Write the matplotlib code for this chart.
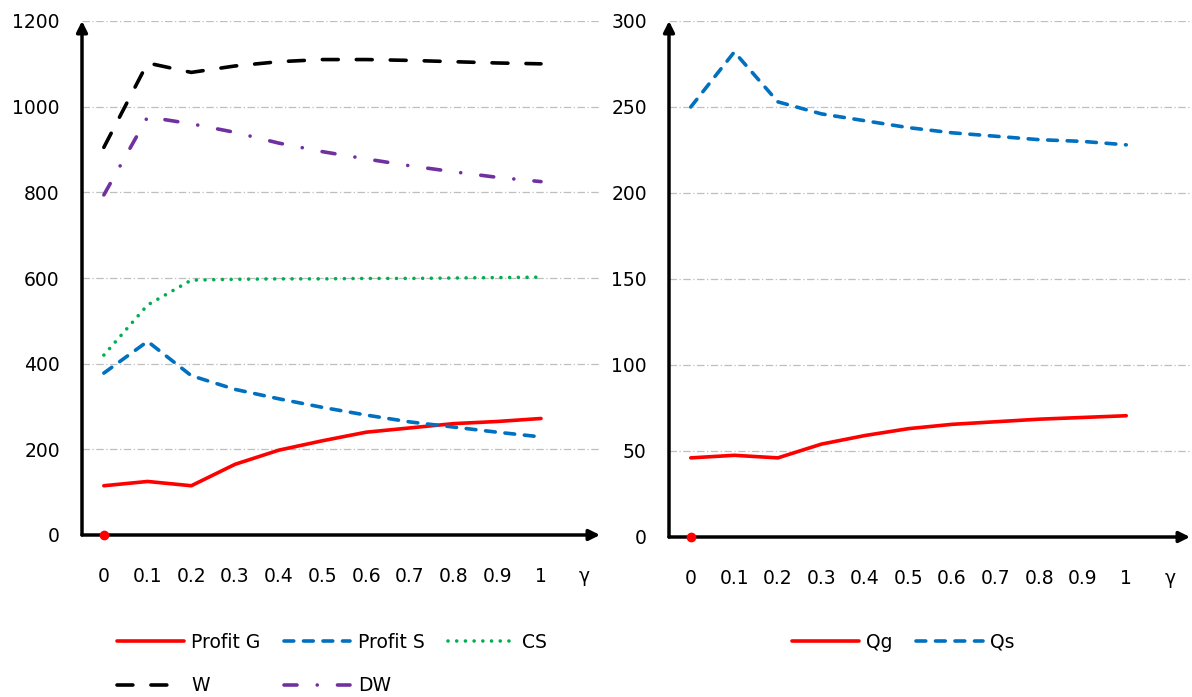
import matplotlib.pyplot as plt
import numpy as np

plt.rcParams['font.family'] = ['DejaVu Sans']

gamma = [0, 0.1, 0.2, 0.3, 0.4, 0.5, 0.6, 0.7, 0.8, 0.9, 1]
xtick_labels = ["0", "0.1", "0.2", "0.3", "0.4", "0.5", "0.6", "0.7", "0.8", "0.9", "1", "γ"]

# left panel
profit_g = [115, 125, 115, 165, 198, 220, 240, 250, 260, 265, 272]
profit_s = [378, 452, 372, 340, 318, 298, 280, 264, 252, 240, 229]
cs = [420, 537, 595, 597, 598, 598, 599, 599, 600, 601, 602]
w = [905, 1102, 1080, 1095, 1105, 1110, 1110, 1108, 1105, 1102, 1100]
dw = [794, 976, 960, 940, 915, 895, 878, 862, 848, 835, 825]

# right panel
qg = [46, 47.5, 46, 54, 59, 63, 65.5, 67, 68.5, 69.5, 70.5]
qs = [250, 282, 253, 246, 242, 238, 235, 233, 231, 230, 228]

RED = "#FF0000"
BLUE = "#0070C0"
GREEN = "#00B050"
PURPLE = "#7030A0"
LW = 2.6

fig = plt.figure(figsize=(11.92, 6.97), dpi=100)
ax1 = fig.add_axes([82/1192, 1-535/697, (600-82)/1192, (535-21)/697])
ax2 = fig.add_axes([669/1192, 1-537/697, (1190-669)/1192, (537-21)/697])


def style(ax, ymax, ystep, xright):
    ax.set_ylim(0, ymax)
    ax.set_xlim(-0.05, xright)
    ax.set_yticks(np.arange(0, ymax + 1, ystep))
    ax.set_xticks(gamma + [1.1])
    ax.set_xticklabels(xtick_labels)
    for s in ax.spines.values():
        s.set_visible(False)
    ax.tick_params(axis="y", length=0, pad=16, labelsize=13.5)
    ax.tick_params(axis="x", length=0, pad=23, labelsize=13.5)
    for t in np.arange(ystep, ymax + 1, ystep):
        ax.axhline(t, color="#BFBFBF", lw=0.9, ls=(0, (6, 2, 1, 2)), zorder=0)
    ax.annotate("", xy=(0, 1.0), xytext=(0, 0), xycoords="axes fraction",
                arrowprops=dict(arrowstyle="-|>", color="black", lw=2.5,
                                mutation_scale=16, shrinkA=0, shrinkB=0),
                annotation_clip=False)
    ax.annotate("", xy=(1.0, 0), xytext=(0, 0), xycoords="axes fraction",
                arrowprops=dict(arrowstyle="-|>", color="black", lw=2.5,
                                mutation_scale=16, shrinkA=0, shrinkB=0),
                annotation_clip=False)
    ax.plot([0], [0], "o", color=RED, ms=6, clip_on=False, zorder=5)


style(ax1, 1200, 200, 1.135)
style(ax2, 300, 50, 1.135 + (1190 - 1185) / 437)

h_pg, = ax1.plot(gamma, profit_g, color=RED, lw=LW, label="Profit G", solid_capstyle="round")
h_ps, = ax1.plot(gamma, profit_s, color=BLUE, lw=LW, ls=(0, (2.7, 2.7)), dash_capstyle="round", label="Profit S")
h_cs, = ax1.plot(gamma, cs, color=GREEN, lw=LW, ls=(0, (0.01, 2.4)), dash_capstyle="round", label="CS")
h_w, = ax1.plot(gamma, w, color="black", lw=LW, ls=(0, (4.4, 5)), dash_capstyle="round", label="W")
h_dw, = ax1.plot(gamma, dw, color=PURPLE, lw=LW, ls=(0, (3.6, 5.6, 0.01, 5.6)), dash_capstyle="round", label="DW")

ax2.plot(gamma, qg, color=RED, lw=LW, label="Qg", solid_capstyle="round")
ax2.plot(gamma, qs, color=BLUE, lw=LW, ls=(0, (2.7, 2.7)), dash_capstyle="round", label="Qs")

leg_kw = dict(frameon=False, fontsize=13.5, handlelength=3.55, handletextpad=0.4,
              columnspacing=1.25, labelspacing=1.3, borderpad=0, borderaxespad=0,
              loc="upper left", bbox_transform=fig.transFigure)
# legend fills column by column, so order for rows: PG PS CS / W DW
order = [h_pg, h_w, h_ps, h_dw, h_cs]
ax1.legend(order, [h.get_label() for h in order], ncol=3,
           bbox_to_anchor=(117/1192, 1-633/697), **leg_kw)
ax2.legend(ncol=2, bbox_to_anchor=(792/1192, 1-633/697), **leg_kw)

fig.savefig("out.png", dpi=100)
